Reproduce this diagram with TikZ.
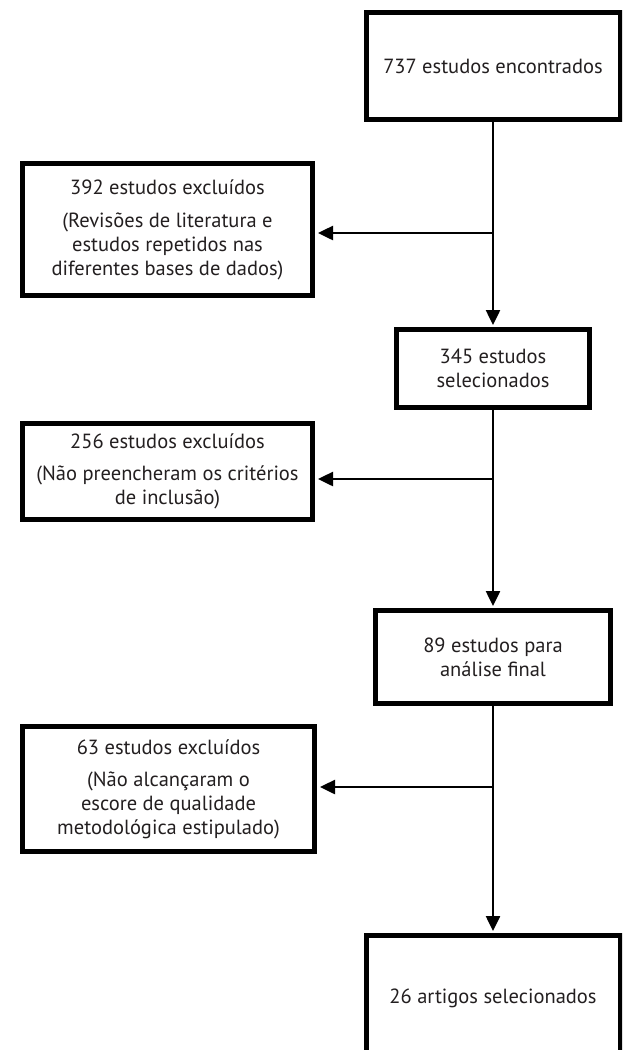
\documentclass[tikz,border=0pt]{standalone}
\usepackage{fontspec}
\setmainfont{PT Sans}
\usetikzlibrary{arrows.meta}
\definecolor{txt}{HTML}{231F20}
\tikzset{
  boxnode/.style={draw=black, line width=5pt, text=txt, align=center, inner sep=0pt,
    font=\fontsize{20.5}{24}\selectfont},
  conn/.style={line width=2.5pt, -{Triangle[length=15pt,width=14pt]}, shorten >=2pt},
}
\begin{document}
\begin{tikzpicture}[x=1pt,y=-1pt]
\path[use as bounding box] (0,0) rectangle (622,1050);
\clip (0,0) rectangle (622,1050);
\fill[white] (0,0) rectangle (622,1050);

\node[boxnode, minimum width=254pt, minimum height=107pt] (b1) at (493,66) {737 estudos encontrados};
\node[boxnode, minimum width=290pt, minimum height=132pt] (b2) at (167.5,229.5)
  {392 estudos excluídos\\[9pt](Revisões de literatura e\\estudos repetidos nas\\diferentes bases de dados)};
\node[boxnode, minimum width=193pt, minimum height=78pt] (b3) at (493,368.5) {345 estudos\\selecionados};
\node[boxnode, minimum width=290pt, minimum height=96pt] (b4) at (167.5,471.5)
  {256 estudos excluídos\\[8pt](Não preencheram os critérios\\de inclusão)};
\node[boxnode, minimum width=235pt, minimum height=93pt] (b5) at (493,657) {89 estudos para\\análise final};
\node[boxnode, minimum width=292pt, minimum height=125pt] (b6) at (168.5,789)
  {63 estudos excluídos\\[8pt](Não alcançaram o\\escore de qualidade\\metodológica estipulado)};
\node[boxnode, minimum width=254pt, minimum height=125pt] (b7) at (493,998) {26 artigos selecionados};

\coordinate (j1) at (493,233);
\coordinate (j2) at (493,479);
\coordinate (j3) at (493,787);

\draw[conn] (b1.south) -- (b3.north);
\draw[conn] (b3.south) -- (b5.north);
\draw[conn] (b5.south) -- (b7.north);
\draw[conn, shorten >=3pt] (j1) -- (b2.east |- j1);
\draw[conn, shorten >=3pt] (j2) -- (b4.east |- j2);
\draw[conn, shorten >=3pt] (j3) -- (b6.east |- j3);
\end{tikzpicture}
\end{document}
